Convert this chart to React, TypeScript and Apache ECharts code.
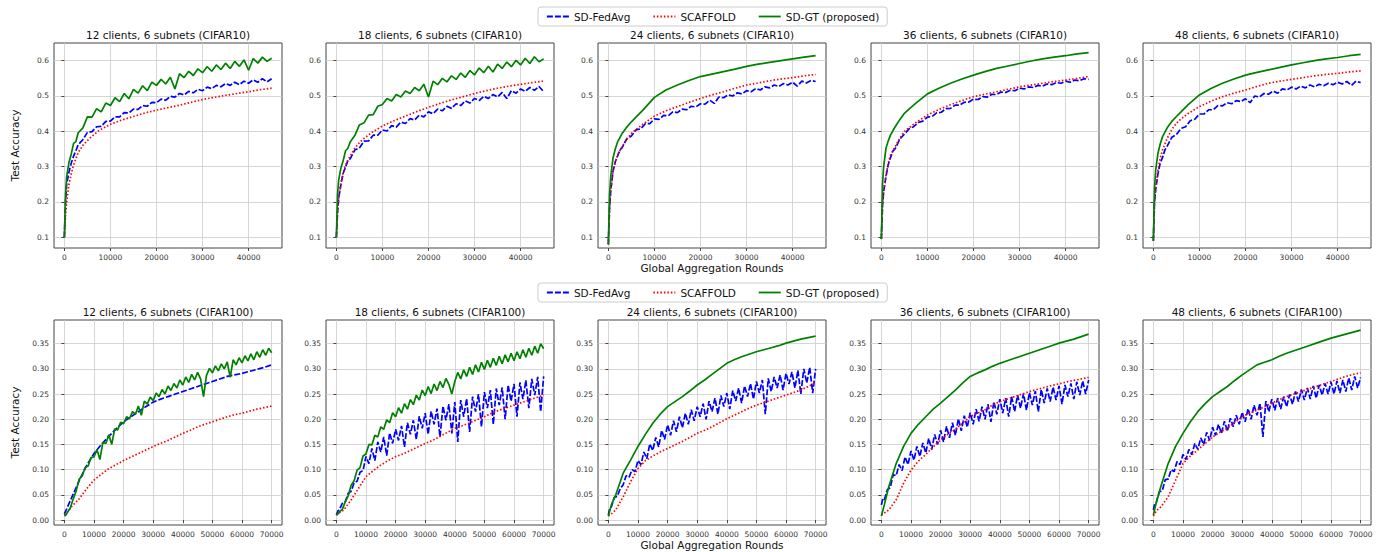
import React, { useEffect, useRef } from "react";
import * as echarts from "echarts";

const SERIES_NAMES = ["SD-FedAvg", "SCAFFOLD", "SD-GT (proposed)"];
const TITLES_CIFAR10 = [
  "12 clients, 6 subnets (CIFAR10)",
  "18 clients, 6 subnets (CIFAR10)",
  "24 clients, 6 subnets (CIFAR10)",
  "36 clients, 6 subnets (CIFAR10)",
  "48 clients, 6 subnets (CIFAR10)",
];
const TITLES_CIFAR100 = [
  "12 clients, 6 subnets (CIFAR100)",
  "18 clients, 6 subnets (CIFAR100)",
  "24 clients, 6 subnets (CIFAR100)",
  "36 clients, 6 subnets (CIFAR100)",
  "48 clients, 6 subnets (CIFAR100)",
];
const X_TICKS_CIFAR10 = [0, 10000, 20000, 30000, 40000];
const X_TICKS_CIFAR100 = [0, 10000, 20000, 30000, 40000, 50000, 60000, 70000];
const Y_TICKS_CIFAR10 = [0.1, 0.2, 0.3, 0.4, 0.5, 0.6];
const Y_TICKS_CIFAR100 = [0, 0.05, 0.1, 0.15, 0.2, 0.25, 0.3, 0.35];
const X_LABEL = "Global Aggregation Rounds";
const Y_LABEL = "Test Accuracy";

const ROUNDS_C10_FINE = [0, 250, 500, 1000, 1500, 2000, 2500, 3000, 4000, 5000, 6000, 7000, 8000, 9000, 10000, 11000, 12000, 13000, 14000, 15000, 16000, 17000, 18000, 19000, 20000, 21000, 22000, 23000, 24000, 25000, 26000, 27000, 28000, 29000, 30000, 31000, 32000, 33000, 34000, 35000, 36000, 37000, 38000, 39000, 40000, 41000, 42000, 43000, 44000, 45000];
const ROUNDS_C10_COARSE = [0, 250, 500, 1000, 1500, 2000, 3000, 4000, 5000, 6000, 7500, 10000, 12500, 15000, 17500, 20000, 22500, 25000, 27500, 30000, 32500, 35000, 37500, 40000, 42500, 45000];
const ROUNDS_C100_FINE = [0, 500, 1000, 2000, 3000, 4000, 5000, 6000, 7000, 8000, 9000, 10000, 11000, 12000, 13000, 14000, 15000, 16000, 17000, 18000, 19000, 20000, 21000, 22000, 23000, 24000, 25000, 26000, 27000, 28000, 29000, 30000, 31000, 32000, 33000, 34000, 35000, 36000, 37000, 38000, 39000, 40000, 41000, 42000, 43000, 44000, 45000, 46000, 47000, 48000, 49000, 50000, 51000, 52000, 53000, 54000, 55000, 56000, 57000, 58000, 59000, 60000, 61000, 62000, 63000, 64000, 65000, 66000, 67000, 68000, 69000, 70000];
const ROUNDS_C100_COARSE = [0, 1000, 2500, 5000, 7500, 10000, 12500, 15000, 17500, 20000, 22500, 25000, 27500, 30000, 32500, 35000, 37500, 40000, 42500, 45000, 47500, 50000, 52500, 55000, 57500, 60000, 62500, 65000, 67500, 70000];

// ---- CIFAR10 ----
const C10_12_FEDAVG = [0.100, 0.200, 0.250, 0.285, 0.310, 0.330, 0.345, 0.362, 0.376, 0.397, 0.399, 0.413, 0.414, 0.428, 0.429, 0.441, 0.441, 0.453, 0.452, 0.463, 0.462, 0.473, 0.471, 0.482, 0.481, 0.491, 0.488, 0.499, 0.497, 0.507, 0.503, 0.513, 0.509, 0.519, 0.515, 0.525, 0.521, 0.530, 0.526, 0.535, 0.530, 0.539, 0.532, 0.542, 0.536, 0.546, 0.539, 0.549, 0.540, 0.549];
const C10_12_SCAFFOLD = [0.100, 0.160, 0.200, 0.250, 0.280, 0.305, 0.340, 0.360, 0.374, 0.386, 0.402, 0.420, 0.432, 0.442, 0.452, 0.460, 0.467, 0.474, 0.482, 0.490, 0.496, 0.502, 0.507, 0.512, 0.518, 0.522];
const C10_12_SDGT = [0.100, 0.220, 0.272, 0.312, 0.336, 0.366, 0.371, 0.396, 0.409, 0.441, 0.440, 0.464, 0.455, 0.480, 0.473, 0.495, 0.484, 0.507, 0.492, 0.519, 0.508, 0.529, 0.515, 0.539, 0.530, 0.547, 0.534, 0.553, 0.520, 0.563, 0.552, 0.570, 0.558, 0.577, 0.566, 0.583, 0.570, 0.588, 0.575, 0.593, 0.578, 0.598, 0.584, 0.602, 0.573, 0.606, 0.593, 0.610, 0.598, 0.607];

const C10_18_FEDAVG = [0.100, 0.170, 0.210, 0.250, 0.282, 0.298, 0.318, 0.322, 0.347, 0.353, 0.372, 0.373, 0.389, 0.389, 0.404, 0.401, 0.416, 0.412, 0.426, 0.422, 0.436, 0.432, 0.446, 0.441, 0.455, 0.450, 0.463, 0.458, 0.471, 0.465, 0.478, 0.473, 0.486, 0.480, 0.493, 0.487, 0.499, 0.493, 0.504, 0.497, 0.510, 0.493, 0.515, 0.508, 0.520, 0.513, 0.524, 0.516, 0.527, 0.512];
const C10_18_SCAFFOLD = [0.100, 0.170, 0.210, 0.255, 0.285, 0.305, 0.330, 0.352, 0.368, 0.380, 0.395, 0.415, 0.430, 0.443, 0.456, 0.468, 0.479, 0.489, 0.498, 0.507, 0.515, 0.522, 0.528, 0.533, 0.538, 0.542];
const C10_18_SDGT = [0.100, 0.220, 0.262, 0.297, 0.318, 0.345, 0.352, 0.370, 0.388, 0.418, 0.424, 0.446, 0.447, 0.471, 0.476, 0.493, 0.486, 0.504, 0.497, 0.514, 0.507, 0.524, 0.515, 0.533, 0.497, 0.542, 0.532, 0.550, 0.540, 0.557, 0.547, 0.565, 0.553, 0.572, 0.560, 0.579, 0.566, 0.584, 0.568, 0.590, 0.578, 0.596, 0.583, 0.601, 0.588, 0.607, 0.592, 0.611, 0.597, 0.605];

const C10_24_FEDAVG = [0.080, 0.180, 0.230, 0.286, 0.314, 0.330, 0.347, 0.354, 0.379, 0.387, 0.404, 0.407, 0.421, 0.422, 0.435, 0.434, 0.445, 0.444, 0.455, 0.453, 0.463, 0.461, 0.471, 0.469, 0.478, 0.477, 0.488, 0.479, 0.497, 0.495, 0.503, 0.500, 0.509, 0.506, 0.515, 0.512, 0.521, 0.517, 0.526, 0.523, 0.531, 0.527, 0.535, 0.531, 0.539, 0.528, 0.542, 0.537, 0.544, 0.541];
const C10_24_SCAFFOLD = [0.080, 0.180, 0.230, 0.286, 0.315, 0.333, 0.357, 0.378, 0.394, 0.405, 0.420, 0.443, 0.458, 0.470, 0.482, 0.493, 0.503, 0.512, 0.522, 0.531, 0.537, 0.543, 0.548, 0.552, 0.557, 0.561];
const C10_24_SDGT = [0.080, 0.220, 0.270, 0.324, 0.350, 0.370, 0.394, 0.412, 0.427, 0.440, 0.460, 0.496, 0.517, 0.531, 0.544, 0.555, 0.562, 0.569, 0.576, 0.584, 0.590, 0.595, 0.600, 0.605, 0.610, 0.614];

const C10_36_FEDAVG = [0.095, 0.190, 0.230, 0.272, 0.306, 0.326, 0.344, 0.351, 0.378, 0.392, 0.407, 0.413, 0.425, 0.429, 0.440, 0.442, 0.452, 0.454, 0.464, 0.465, 0.474, 0.474, 0.482, 0.483, 0.491, 0.490, 0.498, 0.497, 0.505, 0.504, 0.511, 0.510, 0.516, 0.515, 0.522, 0.520, 0.526, 0.524, 0.530, 0.528, 0.534, 0.532, 0.538, 0.536, 0.542, 0.539, 0.545, 0.543, 0.549, 0.547];
const C10_36_SCAFFOLD = [0.095, 0.190, 0.230, 0.276, 0.310, 0.333, 0.357, 0.380, 0.400, 0.410, 0.425, 0.446, 0.462, 0.475, 0.487, 0.498, 0.505, 0.512, 0.519, 0.526, 0.531, 0.536, 0.541, 0.545, 0.550, 0.555];
const C10_36_SDGT = [0.095, 0.250, 0.300, 0.352, 0.373, 0.390, 0.413, 0.433, 0.451, 0.463, 0.480, 0.506, 0.522, 0.536, 0.548, 0.559, 0.569, 0.578, 0.585, 0.592, 0.599, 0.605, 0.610, 0.614, 0.619, 0.623];

const C10_48_FEDAVG = [0.090, 0.200, 0.235, 0.280, 0.311, 0.326, 0.347, 0.358, 0.383, 0.391, 0.408, 0.413, 0.430, 0.434, 0.449, 0.449, 0.461, 0.461, 0.473, 0.472, 0.481, 0.478, 0.487, 0.484, 0.492, 0.481, 0.500, 0.497, 0.507, 0.505, 0.514, 0.508, 0.520, 0.517, 0.525, 0.520, 0.528, 0.523, 0.531, 0.526, 0.533, 0.529, 0.536, 0.532, 0.539, 0.534, 0.541, 0.530, 0.542, 0.538];
const C10_48_SCAFFOLD = [0.090, 0.200, 0.240, 0.290, 0.325, 0.347, 0.380, 0.405, 0.423, 0.435, 0.450, 0.470, 0.485, 0.498, 0.508, 0.517, 0.527, 0.536, 0.542, 0.547, 0.552, 0.557, 0.561, 0.564, 0.568, 0.571];
const C10_48_SDGT = [0.090, 0.240, 0.290, 0.338, 0.365, 0.385, 0.410, 0.428, 0.442, 0.455, 0.475, 0.503, 0.521, 0.536, 0.548, 0.559, 0.567, 0.574, 0.581, 0.588, 0.594, 0.600, 0.605, 0.609, 0.614, 0.618];

// ---- CIFAR100 ----
const C100_12_FEDAVG = [0.012, 0.025, 0.045, 0.078, 0.108, 0.132, 0.150, 0.166, 0.181, 0.195, 0.205, 0.215, 0.225, 0.234, 0.240, 0.245, 0.250, 0.255, 0.260, 0.265, 0.270, 0.275, 0.280, 0.285, 0.288, 0.291, 0.295, 0.299, 0.303, 0.308];
const C100_12_SCAFFOLD = [0.010, 0.016, 0.027, 0.042, 0.062, 0.079, 0.091, 0.102, 0.110, 0.118, 0.125, 0.132, 0.139, 0.146, 0.152, 0.158, 0.165, 0.172, 0.178, 0.185, 0.190, 0.195, 0.200, 0.205, 0.209, 0.212, 0.216, 0.220, 0.223, 0.226];
const C100_12_SDGT = [0.008, 0.010, 0.015, 0.024, 0.042, 0.058, 0.081, 0.087, 0.104, 0.107, 0.124, 0.125, 0.140, 0.120, 0.154, 0.152, 0.169, 0.150, 0.181, 0.179, 0.194, 0.191, 0.205, 0.201, 0.215, 0.210, 0.226, 0.208, 0.236, 0.230, 0.244, 0.237, 0.252, 0.245, 0.259, 0.250, 0.266, 0.257, 0.271, 0.262, 0.278, 0.268, 0.284, 0.273, 0.289, 0.278, 0.293, 0.280, 0.245, 0.287, 0.301, 0.292, 0.306, 0.296, 0.310, 0.300, 0.314, 0.283, 0.318, 0.308, 0.322, 0.312, 0.326, 0.316, 0.330, 0.318, 0.334, 0.323, 0.338, 0.327, 0.341, 0.332];

const C100_18_FEDAVG = [0.010, 0.018, 0.020, 0.033, 0.036, 0.053, 0.057, 0.074, 0.077, 0.095, 0.098, 0.126, 0.112, 0.142, 0.118, 0.155, 0.135, 0.165, 0.128, 0.173, 0.152, 0.180, 0.158, 0.187, 0.145, 0.193, 0.170, 0.198, 0.160, 0.206, 0.182, 0.212, 0.170, 0.216, 0.190, 0.221, 0.165, 0.226, 0.198, 0.230, 0.172, 0.234, 0.155, 0.238, 0.205, 0.241, 0.175, 0.245, 0.215, 0.250, 0.185, 0.254, 0.222, 0.258, 0.190, 0.261, 0.228, 0.263, 0.200, 0.268, 0.236, 0.270, 0.205, 0.273, 0.240, 0.277, 0.222, 0.280, 0.248, 0.284, 0.215, 0.285];
const C100_18_SCAFFOLD = [0.010, 0.014, 0.020, 0.040, 0.063, 0.086, 0.098, 0.109, 0.118, 0.126, 0.131, 0.138, 0.145, 0.152, 0.158, 0.166, 0.174, 0.182, 0.187, 0.193, 0.199, 0.205, 0.212, 0.218, 0.223, 0.228, 0.233, 0.238, 0.243, 0.248];
const C100_18_SDGT = [0.010, 0.012, 0.016, 0.021, 0.036, 0.048, 0.069, 0.078, 0.099, 0.104, 0.127, 0.131, 0.150, 0.149, 0.168, 0.165, 0.185, 0.180, 0.199, 0.193, 0.213, 0.205, 0.223, 0.212, 0.231, 0.220, 0.239, 0.229, 0.248, 0.238, 0.258, 0.247, 0.265, 0.251, 0.270, 0.257, 0.275, 0.263, 0.281, 0.269, 0.250, 0.275, 0.293, 0.280, 0.298, 0.285, 0.303, 0.289, 0.308, 0.294, 0.313, 0.299, 0.317, 0.303, 0.321, 0.307, 0.325, 0.310, 0.328, 0.314, 0.331, 0.316, 0.334, 0.320, 0.338, 0.323, 0.341, 0.327, 0.345, 0.331, 0.350, 0.340];

const C100_24_FEDAVG = [0.010, 0.024, 0.026, 0.045, 0.047, 0.062, 0.070, 0.088, 0.085, 0.100, 0.096, 0.118, 0.110, 0.135, 0.122, 0.151, 0.138, 0.164, 0.145, 0.178, 0.160, 0.189, 0.168, 0.197, 0.175, 0.205, 0.183, 0.212, 0.190, 0.219, 0.197, 0.225, 0.205, 0.231, 0.200, 0.236, 0.215, 0.242, 0.210, 0.247, 0.225, 0.252, 0.220, 0.257, 0.236, 0.262, 0.232, 0.266, 0.245, 0.271, 0.240, 0.275, 0.252, 0.278, 0.210, 0.281, 0.255, 0.284, 0.262, 0.288, 0.258, 0.291, 0.270, 0.294, 0.262, 0.297, 0.250, 0.300, 0.272, 0.303, 0.252, 0.300];
const C100_24_SCAFFOLD = [0.008, 0.012, 0.020, 0.046, 0.076, 0.102, 0.118, 0.127, 0.135, 0.142, 0.149, 0.156, 0.164, 0.172, 0.178, 0.185, 0.193, 0.201, 0.208, 0.215, 0.222, 0.228, 0.233, 0.238, 0.243, 0.248, 0.253, 0.258, 0.265, 0.273];
const C100_24_SDGT = [0.008, 0.030, 0.050, 0.093, 0.119, 0.146, 0.170, 0.192, 0.210, 0.225, 0.235, 0.245, 0.256, 0.268, 0.278, 0.289, 0.300, 0.311, 0.318, 0.324, 0.329, 0.334, 0.338, 0.342, 0.346, 0.351, 0.355, 0.359, 0.362, 0.365];

const C100_36_FEDAVG = [0.030, 0.042, 0.040, 0.060, 0.064, 0.090, 0.088, 0.110, 0.098, 0.125, 0.110, 0.137, 0.119, 0.146, 0.126, 0.153, 0.133, 0.162, 0.140, 0.170, 0.150, 0.178, 0.155, 0.186, 0.163, 0.193, 0.168, 0.201, 0.177, 0.207, 0.184, 0.213, 0.190, 0.220, 0.196, 0.225, 0.200, 0.230, 0.195, 0.235, 0.210, 0.240, 0.212, 0.242, 0.205, 0.245, 0.215, 0.248, 0.222, 0.251, 0.218, 0.253, 0.228, 0.256, 0.215, 0.259, 0.232, 0.261, 0.235, 0.264, 0.238, 0.266, 0.230, 0.268, 0.245, 0.271, 0.240, 0.274, 0.248, 0.276, 0.250, 0.278];
const C100_36_SCAFFOLD = [0.010, 0.014, 0.020, 0.040, 0.073, 0.099, 0.117, 0.130, 0.145, 0.159, 0.170, 0.180, 0.193, 0.205, 0.212, 0.219, 0.228, 0.235, 0.240, 0.245, 0.250, 0.255, 0.259, 0.263, 0.267, 0.270, 0.274, 0.277, 0.280, 0.283];
const C100_36_SDGT = [0.008, 0.030, 0.066, 0.112, 0.146, 0.172, 0.190, 0.205, 0.220, 0.232, 0.245, 0.258, 0.272, 0.285, 0.292, 0.298, 0.305, 0.311, 0.316, 0.321, 0.326, 0.331, 0.336, 0.341, 0.346, 0.351, 0.355, 0.359, 0.364, 0.369];

const C100_48_FEDAVG = [0.020, 0.034, 0.035, 0.056, 0.058, 0.080, 0.081, 0.100, 0.096, 0.116, 0.110, 0.130, 0.120, 0.140, 0.130, 0.152, 0.140, 0.163, 0.150, 0.174, 0.158, 0.184, 0.168, 0.190, 0.172, 0.196, 0.176, 0.202, 0.185, 0.208, 0.190, 0.214, 0.195, 0.221, 0.200, 0.228, 0.208, 0.232, 0.165, 0.236, 0.215, 0.240, 0.218, 0.242, 0.220, 0.245, 0.225, 0.249, 0.230, 0.255, 0.235, 0.259, 0.238, 0.262, 0.240, 0.266, 0.242, 0.268, 0.248, 0.271, 0.250, 0.274, 0.250, 0.276, 0.252, 0.278, 0.255, 0.282, 0.258, 0.285, 0.262, 0.283];
const C100_48_SCAFFOLD = [0.008, 0.018, 0.026, 0.046, 0.079, 0.112, 0.127, 0.139, 0.152, 0.165, 0.174, 0.182, 0.194, 0.205, 0.212, 0.218, 0.225, 0.232, 0.239, 0.245, 0.250, 0.255, 0.260, 0.265, 0.270, 0.275, 0.280, 0.285, 0.289, 0.292];
const C100_48_SDGT = [0.010, 0.035, 0.066, 0.112, 0.146, 0.172, 0.195, 0.215, 0.231, 0.245, 0.255, 0.265, 0.277, 0.288, 0.298, 0.308, 0.313, 0.318, 0.325, 0.331, 0.336, 0.341, 0.346, 0.351, 0.356, 0.361, 0.365, 0.369, 0.373, 0.377];

type Curve = [number[], number[]];
type Panel = { row: number; col: number; title: string; fedavg: Curve; scaffold: Curve; sdgt: Curve };

const PANELS: Panel[] = [
  { row: 0, col: 0, title: TITLES_CIFAR10[0], fedavg: [ROUNDS_C10_FINE, C10_12_FEDAVG], scaffold: [ROUNDS_C10_COARSE, C10_12_SCAFFOLD], sdgt: [ROUNDS_C10_FINE, C10_12_SDGT] },
  { row: 0, col: 1, title: TITLES_CIFAR10[1], fedavg: [ROUNDS_C10_FINE, C10_18_FEDAVG], scaffold: [ROUNDS_C10_COARSE, C10_18_SCAFFOLD], sdgt: [ROUNDS_C10_FINE, C10_18_SDGT] },
  { row: 0, col: 2, title: TITLES_CIFAR10[2], fedavg: [ROUNDS_C10_FINE, C10_24_FEDAVG], scaffold: [ROUNDS_C10_COARSE, C10_24_SCAFFOLD], sdgt: [ROUNDS_C10_COARSE, C10_24_SDGT] },
  { row: 0, col: 3, title: TITLES_CIFAR10[3], fedavg: [ROUNDS_C10_FINE, C10_36_FEDAVG], scaffold: [ROUNDS_C10_COARSE, C10_36_SCAFFOLD], sdgt: [ROUNDS_C10_COARSE, C10_36_SDGT] },
  { row: 0, col: 4, title: TITLES_CIFAR10[4], fedavg: [ROUNDS_C10_FINE, C10_48_FEDAVG], scaffold: [ROUNDS_C10_COARSE, C10_48_SCAFFOLD], sdgt: [ROUNDS_C10_COARSE, C10_48_SDGT] },
  { row: 1, col: 0, title: TITLES_CIFAR100[0], fedavg: [ROUNDS_C100_COARSE, C100_12_FEDAVG], scaffold: [ROUNDS_C100_COARSE, C100_12_SCAFFOLD], sdgt: [ROUNDS_C100_FINE, C100_12_SDGT] },
  { row: 1, col: 1, title: TITLES_CIFAR100[1], fedavg: [ROUNDS_C100_FINE, C100_18_FEDAVG], scaffold: [ROUNDS_C100_COARSE, C100_18_SCAFFOLD], sdgt: [ROUNDS_C100_FINE, C100_18_SDGT] },
  { row: 1, col: 2, title: TITLES_CIFAR100[2], fedavg: [ROUNDS_C100_FINE, C100_24_FEDAVG], scaffold: [ROUNDS_C100_COARSE, C100_24_SCAFFOLD], sdgt: [ROUNDS_C100_COARSE, C100_24_SDGT] },
  { row: 1, col: 3, title: TITLES_CIFAR100[3], fedavg: [ROUNDS_C100_FINE, C100_36_FEDAVG], scaffold: [ROUNDS_C100_COARSE, C100_36_SCAFFOLD], sdgt: [ROUNDS_C100_COARSE, C100_36_SDGT] },
  { row: 1, col: 4, title: TITLES_CIFAR100[4], fedavg: [ROUNDS_C100_FINE, C100_48_FEDAVG], scaffold: [ROUNDS_C100_COARSE, C100_48_SCAFFOLD], sdgt: [ROUNDS_C100_COARSE, C100_48_SDGT] },
];

const FONT = "DejaVu Sans";
const GRID_LEFTS = [54, 326, 598, 871, 1143];
const GRID_TOPS = [43, 320];
const GRID_W = 228;
const GRID_H = 205;
const COLORS = ["#0000ff", "#ff0000", "#008000"];
const DASHES: any[] = [[6, 2], [1.5, 2], "solid"];

function buildOption() {
  const grid: any[] = [];
  const xAxis: any[] = [];
  const yAxis: any[] = [];
  const series: any[] = [];
  const title: any[] = [];

  PANELS.forEach((p, i) => {
    const left = GRID_LEFTS[p.col];
    const top = GRID_TOPS[p.row];
    grid.push({ left, top, width: GRID_W, height: GRID_H, show: true, borderColor: "#444", borderWidth: 1, backgroundColor: "transparent" });
    const isC10 = p.row === 0;
    const xTicks = isC10 ? X_TICKS_CIFAR10 : X_TICKS_CIFAR100;
    const yTicks = isC10 ? Y_TICKS_CIFAR10 : Y_TICKS_CIFAR100;
    xAxis.push({
      type: "value",
      gridIndex: i,
      min: isC10 ? -2250 : -3500,
      max: isC10 ? 47250 : 73500,
      axisLine: { show: false },
      axisTick: { show: true, length: 3, customValues: xTicks, lineStyle: { color: "#444" } },
      axisLabel: { customValues: xTicks, fontSize: 7.5, fontFamily: FONT, color: "#333", margin: 5, formatter: (v: number) => String(v) },
      splitLine: { show: true, lineStyle: { color: "#cccccc", width: 0.8 } },
      name: p.col === 2 ? X_LABEL : "",
      nameLocation: "middle",
      nameGap: 14,
      nameTextStyle: { fontSize: 10.5, fontFamily: FONT, color: "#111", verticalAlign: "top" },
    });
    yAxis.push({
      type: "value",
      gridIndex: i,
      min: isC10 ? 0.0697 : -0.0099,
      max: isC10 ? 0.65 : 0.397,
      axisLine: { show: false },
      axisTick: { show: true, length: 3, customValues: yTicks, lineStyle: { color: "#444" } },
      axisLabel: { customValues: yTicks, fontSize: 7.5, fontFamily: FONT, color: "#333", margin: 5, formatter: (v: number) => (isC10 ? v.toFixed(1) : v.toFixed(2)) },
      splitLine: { show: true, lineStyle: { color: "#cccccc", width: 0.8 } },
      name: p.col === 0 ? Y_LABEL : "",
      nameLocation: "middle",
      nameGap: 34,
      nameRotate: 90,
      nameTextStyle: { fontSize: 10.5, fontFamily: FONT, color: "#111" },
    });
    title.push({
      text: p.title,
      left: left + GRID_W / 2,
      top: top - 14,
      textAlign: "center",
      padding: 0,
      textStyle: { fontSize: 10.5, fontFamily: FONT, fontWeight: "normal", color: "#111" },
    });
    const curves: Curve[] = [p.fedavg, p.scaffold, p.sdgt];
    curves.forEach((c, k) => {
      const xs = c[0];
      const ys = c[1];
      series.push({
        type: "line",
        name: SERIES_NAMES[k],
        xAxisIndex: i,
        yAxisIndex: i,
        data: xs.map((x, j) => [x, ys[j]]),
        symbol: "none",
        showSymbol: false,
        silent: true,
        clip: true,
        lineStyle: { color: COLORS[k], width: 1.7, type: DASHES[k] },
        itemStyle: { color: COLORS[k] },
        z: 2 + k,
      });
    });
  });

  const legendBase = {
    data: SERIES_NAMES,
    left: 538,
    itemWidth: 22,
    itemHeight: 12,
    itemGap: 22,
    padding: [4, 8],
    borderColor: "#cccccc",
    borderWidth: 1,
    borderRadius: 3,
    backgroundColor: "#ffffff",
    itemStyle: { opacity: 0 },
    lineStyle: { width: 1.8 },
    textStyle: { fontSize: 10.5, fontFamily: FONT, color: "#111" },
    selectedMode: false,
  };

  return {
    animation: false,
    backgroundColor: "#ffffff",
    grid,
    xAxis,
    yAxis,
    series,
    title,
    legend: [
      { ...legendBase, top: 7 },
      { ...legendBase, top: 283 },
    ],
  };
}

export default function App() {
  const ref = useRef<HTMLDivElement>(null);
  useEffect(() => {
    if (!ref.current) return;
    const chart = echarts.init(ref.current, undefined, { renderer: "svg" });
    chart.setOption(buildOption() as any);
    return () => chart.dispose();
  }, []);
  return (
    <div
      ref={ref}
      style={{ position: "fixed", left: 0, top: 0, width: 1379, height: 552, background: "#fff" }}
    />
  );
}
